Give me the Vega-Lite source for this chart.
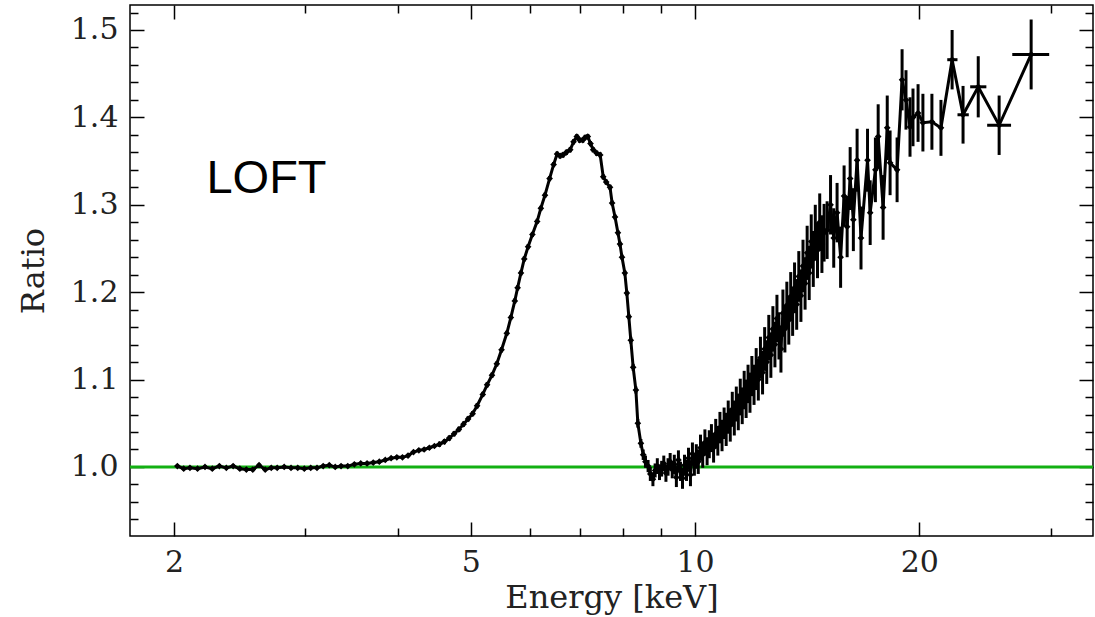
{
  "$schema": "https://vega.github.io/schema/vega-lite/v6.json",
  "width": 963,
  "height": 531,
  "autosize": {"type": "none"},
  "padding": {"left": 130, "top": 5, "right": 2, "bottom": 81},
  "background": "white",
  "config": {
    "view": {"stroke": "black", "strokeWidth": 1.5},
    "font": "DejaVu Serif"
  },
  "datasets": {
    "spec": [
      {"e": 2.02, "r": 1.001, "s": 0.002}, {"e": 2.06, "r": 0.998, "s": 0.002}, {"e": 2.10, "r": 0.999, "s": 0.002},
      {"e": 2.15, "r": 0.998, "s": 0.002}, {"e": 2.20, "r": 1.000, "s": 0.002}, {"e": 2.25, "r": 0.998, "s": 0.002},
      {"e": 2.30, "r": 1.001, "s": 0.002}, {"e": 2.35, "r": 0.999, "s": 0.002}, {"e": 2.40, "r": 1.001, "s": 0.002},
      {"e": 2.45, "r": 0.998, "s": 0.002}, {"e": 2.50, "r": 0.997, "s": 0.002}, {"e": 2.55, "r": 0.997, "s": 0.002},
      {"e": 2.60, "r": 1.002, "s": 0.002}, {"e": 2.65, "r": 0.997, "s": 0.002}, {"e": 2.70, "r": 0.999, "s": 0.002},
      {"e": 2.75, "r": 0.999, "s": 0.002}, {"e": 2.81, "r": 1.000, "s": 0.002}, {"e": 2.87, "r": 0.999, "s": 0.002},
      {"e": 2.93, "r": 0.999, "s": 0.002}, {"e": 2.99, "r": 0.998, "s": 0.002}, {"e": 3.05, "r": 0.999, "s": 0.002},
      {"e": 3.11, "r": 0.999, "s": 0.002}, {"e": 3.17, "r": 1.001, "s": 0.002}, {"e": 3.23, "r": 1.002, "s": 0.002},
      {"e": 3.29, "r": 1.000, "s": 0.002}, {"e": 3.35, "r": 1.001, "s": 0.002}, {"e": 3.42, "r": 1.001, "s": 0.002},
      {"e": 3.49, "r": 1.003, "s": 0.002}, {"e": 3.56, "r": 1.004, "s": 0.002}, {"e": 3.63, "r": 1.004, "s": 0.002},
      {"e": 3.70, "r": 1.005, "s": 0.002}, {"e": 3.77, "r": 1.006, "s": 0.002}, {"e": 3.84, "r": 1.008, "s": 0.002},
      {"e": 3.91, "r": 1.010, "s": 0.002}, {"e": 3.98, "r": 1.011, "s": 0.002}, {"e": 4.05, "r": 1.011, "s": 0.002},
      {"e": 4.12, "r": 1.013, "s": 0.002}, {"e": 4.19, "r": 1.017, "s": 0.002}, {"e": 4.26, "r": 1.019, "s": 0.002},
      {"e": 4.33, "r": 1.020, "s": 0.002}, {"e": 4.40, "r": 1.022, "s": 0.002}, {"e": 4.47, "r": 1.024, "s": 0.002},
      {"e": 4.54, "r": 1.026, "s": 0.003}, {"e": 4.61, "r": 1.029, "s": 0.003}, {"e": 4.68, "r": 1.033, "s": 0.003},
      {"e": 4.75, "r": 1.038, "s": 0.003}, {"e": 4.82, "r": 1.043, "s": 0.003}, {"e": 4.89, "r": 1.049, "s": 0.003},
      {"e": 4.96, "r": 1.055, "s": 0.003}, {"e": 5.03, "r": 1.061, "s": 0.003}, {"e": 5.10, "r": 1.070, "s": 0.003},
      {"e": 5.19, "r": 1.083, "s": 0.003}, {"e": 5.26, "r": 1.094, "s": 0.003}, {"e": 5.34, "r": 1.105, "s": 0.003},
      {"e": 5.42, "r": 1.118, "s": 0.003}, {"e": 5.50, "r": 1.134, "s": 0.003}, {"e": 5.59, "r": 1.153, "s": 0.003},
      {"e": 5.66, "r": 1.171, "s": 0.003}, {"e": 5.73, "r": 1.190, "s": 0.003}, {"e": 5.78, "r": 1.205, "s": 0.003},
      {"e": 5.84, "r": 1.222, "s": 0.003}, {"e": 5.90, "r": 1.238, "s": 0.003}, {"e": 5.97, "r": 1.252, "s": 0.003},
      {"e": 6.05, "r": 1.266, "s": 0.003}, {"e": 6.14, "r": 1.281, "s": 0.003}, {"e": 6.21, "r": 1.296, "s": 0.003},
      {"e": 6.29, "r": 1.311, "s": 0.003}, {"e": 6.38, "r": 1.330, "s": 0.003}, {"e": 6.46, "r": 1.346, "s": 0.003},
      {"e": 6.53, "r": 1.358, "s": 0.003}, {"e": 6.59, "r": 1.356, "s": 0.003}, {"e": 6.65, "r": 1.357, "s": 0.003},
      {"e": 6.72, "r": 1.360, "s": 0.003}, {"e": 6.80, "r": 1.363, "s": 0.003}, {"e": 6.87, "r": 1.372, "s": 0.003},
      {"e": 6.94, "r": 1.378, "s": 0.003}, {"e": 7.00, "r": 1.374, "s": 0.003}, {"e": 7.07, "r": 1.374, "s": 0.003},
      {"e": 7.12, "r": 1.377, "s": 0.003}, {"e": 7.18, "r": 1.378, "s": 0.003}, {"e": 7.24, "r": 1.370, "s": 0.003},
      {"e": 7.30, "r": 1.363, "s": 0.003}, {"e": 7.38, "r": 1.359, "s": 0.003}, {"e": 7.46, "r": 1.357, "s": 0.003},
      {"e": 7.53, "r": 1.332, "s": 0.003}, {"e": 7.60, "r": 1.326, "s": 0.003}, {"e": 7.69, "r": 1.320, "s": 0.003},
      {"e": 7.74, "r": 1.302, "s": 0.003}, {"e": 7.81, "r": 1.286, "s": 0.003}, {"e": 7.88, "r": 1.268, "s": 0.003},
      {"e": 7.93, "r": 1.255, "s": 0.003}, {"e": 7.98, "r": 1.240, "s": 0.003}, {"e": 8.05, "r": 1.222, "s": 0.003},
      {"e": 8.10, "r": 1.199, "s": 0.003}, {"e": 8.15, "r": 1.172, "s": 0.003}, {"e": 8.20, "r": 1.145, "s": 0.004},
      {"e": 8.26, "r": 1.114, "s": 0.004}, {"e": 8.33, "r": 1.088, "s": 0.004}, {"e": 8.38, "r": 1.050, "s": 0.005},
      {"e": 8.46, "r": 1.027, "s": 0.005}, {"e": 8.52, "r": 1.014, "s": 0.006}, {"e": 8.58, "r": 1.006, "s": 0.007},
      {"e": 8.65, "r": 1.001, "s": 0.007}, {"e": 8.71, "r": 0.992, "s": 0.008}, {"e": 8.78, "r": 0.986, "s": 0.008},
      {"e": 8.84, "r": 0.996, "s": 0.008}, {"e": 8.90, "r": 1.001, "s": 0.009}, {"e": 8.96, "r": 0.994, "s": 0.009},
      {"e": 9.02, "r": 0.998, "s": 0.009}, {"e": 9.08, "r": 1.004, "s": 0.009}, {"e": 9.14, "r": 0.993, "s": 0.010},
      {"e": 9.20, "r": 1.000, "s": 0.010}, {"e": 9.26, "r": 1.006, "s": 0.010}, {"e": 9.32, "r": 0.997, "s": 0.010},
      {"e": 9.38, "r": 1.003, "s": 0.011}, {"e": 9.44, "r": 0.988, "s": 0.011}, {"e": 9.50, "r": 1.008, "s": 0.011},
      {"e": 9.56, "r": 0.995, "s": 0.011}, {"e": 9.62, "r": 0.987, "s": 0.012}, {"e": 9.68, "r": 1.002, "s": 0.012},
      {"e": 9.74, "r": 0.996, "s": 0.012}, {"e": 9.80, "r": 1.010, "s": 0.012}, {"e": 9.86, "r": 0.991, "s": 0.013},
      {"e": 9.92, "r": 1.015, "s": 0.013}, {"e": 9.98, "r": 1.003, "s": 0.013}, {"e": 10.04, "r": 1.012, "s": 0.014},
      {"e": 10.10, "r": 1.006, "s": 0.014}, {"e": 10.17, "r": 1.022, "s": 0.015}, {"e": 10.24, "r": 1.014, "s": 0.015},
      {"e": 10.31, "r": 1.028, "s": 0.015}, {"e": 10.38, "r": 1.018, "s": 0.016}, {"e": 10.45, "r": 1.026, "s": 0.016},
      {"e": 10.52, "r": 1.033, "s": 0.016}, {"e": 10.59, "r": 1.022, "s": 0.017}, {"e": 10.66, "r": 1.038, "s": 0.017},
      {"e": 10.73, "r": 1.030, "s": 0.017}, {"e": 10.80, "r": 1.045, "s": 0.018}, {"e": 10.87, "r": 1.036, "s": 0.018},
      {"e": 10.94, "r": 1.050, "s": 0.018}, {"e": 11.01, "r": 1.043, "s": 0.019}, {"e": 11.08, "r": 1.057, "s": 0.019},
      {"e": 11.15, "r": 1.048, "s": 0.019}, {"e": 11.22, "r": 1.066, "s": 0.020}, {"e": 11.29, "r": 1.056, "s": 0.020},
      {"e": 11.36, "r": 1.072, "s": 0.020}, {"e": 11.43, "r": 1.063, "s": 0.021}, {"e": 11.50, "r": 1.080, "s": 0.021},
      {"e": 11.57, "r": 1.070, "s": 0.021}, {"e": 11.64, "r": 1.088, "s": 0.022}, {"e": 11.71, "r": 1.078, "s": 0.022},
      {"e": 11.78, "r": 1.095, "s": 0.022}, {"e": 11.85, "r": 1.085, "s": 0.023}, {"e": 11.92, "r": 1.104, "s": 0.023},
      {"e": 12.00, "r": 1.094, "s": 0.023}, {"e": 12.08, "r": 1.112, "s": 0.024}, {"e": 12.16, "r": 1.100, "s": 0.024},
      {"e": 12.24, "r": 1.125, "s": 0.024}, {"e": 12.32, "r": 1.108, "s": 0.025}, {"e": 12.40, "r": 1.135, "s": 0.025},
      {"e": 12.48, "r": 1.120, "s": 0.025}, {"e": 12.56, "r": 1.148, "s": 0.026}, {"e": 12.64, "r": 1.128, "s": 0.026},
      {"e": 12.72, "r": 1.158, "s": 0.026}, {"e": 12.80, "r": 1.140, "s": 0.026}, {"e": 12.88, "r": 1.170, "s": 0.027},
      {"e": 12.96, "r": 1.150, "s": 0.027}, {"e": 13.04, "r": 1.135, "s": 0.027}, {"e": 13.12, "r": 1.176, "s": 0.027},
      {"e": 13.20, "r": 1.158, "s": 0.027}, {"e": 13.28, "r": 1.185, "s": 0.027}, {"e": 13.36, "r": 1.168, "s": 0.028},
      {"e": 13.44, "r": 1.195, "s": 0.028}, {"e": 13.52, "r": 1.178, "s": 0.028}, {"e": 13.60, "r": 1.205, "s": 0.029},
      {"e": 13.69, "r": 1.186, "s": 0.029}, {"e": 13.78, "r": 1.218, "s": 0.029}, {"e": 13.87, "r": 1.196, "s": 0.030},
      {"e": 13.96, "r": 1.230, "s": 0.030}, {"e": 14.05, "r": 1.210, "s": 0.030}, {"e": 14.14, "r": 1.245, "s": 0.031},
      {"e": 14.23, "r": 1.222, "s": 0.031}, {"e": 14.32, "r": 1.258, "s": 0.031}, {"e": 14.41, "r": 1.238, "s": 0.032},
      {"e": 14.50, "r": 1.268, "s": 0.032}, {"e": 14.60, "r": 1.248, "s": 0.032}, {"e": 14.70, "r": 1.280, "s": 0.033},
      {"e": 14.80, "r": 1.255, "s": 0.033}, {"e": 14.90, "r": 1.268, "s": 0.033}, {"e": 15.04, "r": 1.271, "s": 0.033},
      {"e": 15.20, "r": 1.300, "s": 0.034}, {"e": 15.35, "r": 1.262, "s": 0.034}, {"e": 15.51, "r": 1.291, "s": 0.034},
      {"e": 15.68, "r": 1.240, "s": 0.035}, {"e": 15.85, "r": 1.310, "s": 0.035}, {"e": 16.00, "r": 1.275, "s": 0.035},
      {"e": 16.15, "r": 1.330, "s": 0.036}, {"e": 16.31, "r": 1.283, "s": 0.036}, {"e": 16.50, "r": 1.351, "s": 0.036},
      {"e": 16.70, "r": 1.262, "s": 0.036}, {"e": 17.04, "r": 1.351, "s": 0.036}, {"e": 17.18, "r": 1.291, "s": 0.037},
      {"e": 17.46, "r": 1.340, "s": 0.037}, {"e": 17.61, "r": 1.378, "s": 0.037}, {"e": 17.88, "r": 1.297, "s": 0.037},
      {"e": 18.11, "r": 1.388, "s": 0.037}, {"e": 18.27, "r": 1.348, "s": 0.037}, {"e": 18.67, "r": 1.340, "s": 0.037},
      {"e": 18.96, "r": 1.443, "s": 0.035}, {"e": 19.19, "r": 1.420, "s": 0.034}, {"e": 19.43, "r": 1.389, "s": 0.034},
      {"e": 19.61, "r": 1.400, "s": 0.033}, {"e": 19.92, "r": 1.405, "s": 0.033}, {"e": 20.22, "r": 1.394, "s": 0.033},
      {"e": 20.79, "r": 1.395, "s": 0.032}, {"e": 21.38, "r": 1.388, "s": 0.032},
      {"e": 22.13, "r": 1.466, "s": 0.034, "e1": 21.8, "e2": 22.5},
      {"e": 22.89, "r": 1.403, "s": 0.033, "e1": 22.5, "e2": 23.3},
      {"e": 23.99, "r": 1.435, "s": 0.035, "e1": 23.4, "e2": 24.6},
      {"e": 25.59, "r": 1.391, "s": 0.034, "e1": 24.66, "e2": 26.55},
      {"e": 28.25, "r": 1.472, "s": 0.040, "e1": 26.65, "e2": 29.87}
    ]
  },
  "resolve": {"scale": {"x": "shared", "y": "shared"}, "axis": {"x": "independent", "y": "independent"}},
  "layer": [
    {
      "data": {"values": [{"ref": 1.0}]},
      "mark": {"type": "rule", "color": "#12b012", "strokeWidth": 3},
      "encoding": {
        "y": {"field": "ref", "type": "quantitative", "scale": {"domain": [0.921, 1.5286], "zero": false, "nice": false}, "axis": null}
      }
    },
    {
      "data": {"name": "spec"},
      "mark": {"type": "errorbar", "color": "black", "thickness": 3},
      "encoding": {
        "x": {"field": "e", "type": "quantitative", "scale": {"type": "log", "domain": [1.745, 34.2], "nice": false}, "axis": null},
        "y": {"field": "r", "type": "quantitative", "scale": {"domain": [0.921, 1.5286], "zero": false, "nice": false}, "axis": null},
        "yError": {"field": "s"}
      }
    },
    {
      "data": {"name": "spec"},
      "mark": {"type": "rule", "color": "black", "strokeWidth": 3},
      "encoding": {
        "x": {"field": "e1", "type": "quantitative", "scale": {"type": "log", "domain": [1.745, 34.2], "nice": false}, "axis": null},
        "x2": {"field": "e2"},
        "y": {"field": "r", "type": "quantitative", "scale": {"domain": [0.921, 1.5286], "zero": false, "nice": false}, "axis": null}
      }
    },
    {
      "data": {"name": "spec"},
      "mark": {"type": "line", "color": "black", "strokeWidth": 3},
      "encoding": {
        "x": {"field": "e", "type": "quantitative", "scale": {"type": "log", "domain": [1.745, 34.2], "nice": false},
          "axis": {
            "orient": "bottom",
            "values": [2, 3, 4, 5, 6, 7, 8, 9, 10, 20, 30],
            "labelExpr": "(datum.value == 2 || datum.value == 5 || datum.value == 10 || datum.value == 20) ? datum.value + '' : ''",
            "tickSize": {"condition": {"test": "datum.value == 2 || datum.value == 5 || datum.value == 10 || datum.value == 20", "value": -14}, "value": -8},
            "tickColor": "black", "tickWidth": 1.5, "domain": false, "grid": false,
            "labelFont": "DejaVu Serif", "labelFontSize": 30, "labelColor": "#222222", "labelPadding": 25,
            "labelOverlap": false, "labelFlush": false, "labelBound": false,
            "title": "Energy [keV]", "titleFont": "DejaVu Serif", "titleFontSize": 32, "titleFontWeight": "normal", "titleColor": "#222222", "titlePadding": -1
          }
        },
        "y": {"field": "r", "type": "quantitative", "scale": {"domain": [0.921, 1.5286], "zero": false, "nice": false},
          "axis": {
            "orient": "left",
            "values": [0.94, 0.96, 0.98, 1.0, 1.02, 1.04, 1.06, 1.08, 1.1, 1.12, 1.14, 1.16, 1.18, 1.2, 1.22, 1.24, 1.26, 1.28, 1.3, 1.32, 1.34, 1.36, 1.38, 1.4, 1.42, 1.44, 1.46, 1.48, 1.5, 1.52],
            "labelExpr": "abs(datum.value * 10 - round(datum.value * 10)) < 0.001 ? format(datum.value, '.1f') : ''",
            "tickSize": {"condition": {"test": "abs(datum.value * 10 - round(datum.value * 10)) < 0.001", "value": -14}, "value": -8},
            "tickColor": "black", "tickWidth": 1.5, "domain": false, "grid": false,
            "labelFont": "DejaVu Serif", "labelFontSize": 30, "labelColor": "#222222", "labelPadding": 26,
            "labelOverlap": false, "labelFlush": false, "labelBound": false,
            "title": "Ratio", "titleFont": "DejaVu Serif", "titleFontSize": 32, "titleFontWeight": "normal", "titleColor": "#222222", "titlePadding": 20
          }
        }
      }
    },
    {
      "data": {"name": "spec"},
      "mark": {"type": "point", "shape": "diamond", "filled": true, "color": "black", "size": 45, "opacity": 1},
      "encoding": {
        "x": {"field": "e", "type": "quantitative", "scale": {"type": "log", "domain": [1.745, 34.2], "nice": false}, "axis": null},
        "y": {"field": "r", "type": "quantitative", "scale": {"domain": [0.921, 1.5286], "zero": false, "nice": false}, "axis": null}
      }
    },
    {
      "data": {"values": [{"e": 2.21, "r": 1.3135, "label": "LOFT"}]},
      "mark": {"type": "text", "font": "Liberation Sans", "fontSize": 47, "align": "left", "baseline": "alphabetic", "color": "black"},
      "encoding": {
        "text": {"field": "label"},
        "x": {"field": "e", "type": "quantitative", "scale": {"type": "log", "domain": [1.745, 34.2], "nice": false},
          "axis": {
            "orient": "top",
            "values": [2, 3, 4, 5, 6, 7, 8, 9, 10, 20, 30],
            "labels": false,
            "tickSize": {"condition": {"test": "datum.value == 2 || datum.value == 5 || datum.value == 10 || datum.value == 20", "value": -14}, "value": -8},
            "tickColor": "black", "tickWidth": 1.5, "domain": false, "grid": false, "title": null
          }
        },
        "y": {"field": "r", "type": "quantitative", "scale": {"domain": [0.921, 1.5286], "zero": false, "nice": false},
          "axis": {
            "orient": "right",
            "values": [0.94, 0.96, 0.98, 1.0, 1.02, 1.04, 1.06, 1.08, 1.1, 1.12, 1.14, 1.16, 1.18, 1.2, 1.22, 1.24, 1.26, 1.28, 1.3, 1.32, 1.34, 1.36, 1.38, 1.4, 1.42, 1.44, 1.46, 1.48, 1.5, 1.52],
            "labels": false,
            "tickSize": {"condition": {"test": "abs(datum.value * 10 - round(datum.value * 10)) < 0.001", "value": -14}, "value": -8},
            "tickColor": "black", "tickWidth": 1.5, "domain": false, "grid": false, "title": null
          }
        }
      }
    }
  ]
}
